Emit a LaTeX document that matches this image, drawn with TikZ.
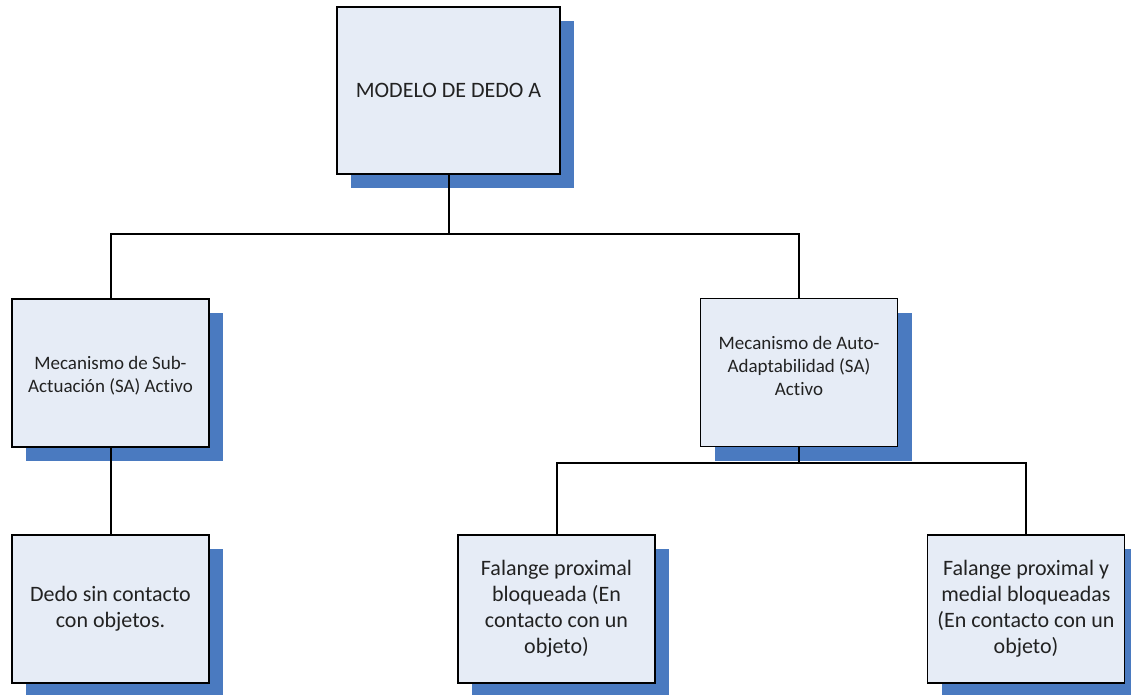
\documentclass[tikz,border=0pt]{standalone}
\usepackage{fontspec}
\setmainfont{Carlito}[Ligatures=NoCommon]
\usetikzlibrary{shadows}
\definecolor{boxfill}{HTML}{E6ECF6}
\definecolor{shadowblue}{HTML}{4A7AC0}
\definecolor{textgray}{HTML}{222222}
\begin{document}
\begin{tikzpicture}[x=1pt,y=-1pt,
  box/.style={draw=black, line width=1.9pt, fill=boxfill, align=center,
    text=textgray, inner sep=4pt,
    drop shadow={shadow xshift=14pt, shadow yshift=-14pt, fill=shadowblue, opacity=1}},
  topbox/.style={box, minimum width=223pt, minimum height=167pt,
    font=\fontsize{22}{26}\selectfont},
  midbox/.style={box, minimum width=197pt, minimum height=148pt,
    font=\fontsize{19}{23}\selectfont},
  leafbox/.style={box, minimum width=197pt, minimum height=148pt,
    font=\fontsize{22}{26}\selectfont},
  link/.style={draw=black, line width=2pt}]
\useasboundingbox (0,0) rectangle (1131,694);
\clip (0,0) rectangle (1131,694);

% boxes
\node[topbox]  (top) at (448.5,90.5) {MODELO DE DEDO A};
\node[midbox]  (ml)  at (110.5,373) {};
\node[midbox]  (mr)  at (799,372.5) {};
\node[leafbox] (bl)  at (110.5,609) {Dedo sin contacto\\con objetos.};
\node[leafbox] (bm)  at (556.5,609) {Falange proximal\\bloqueada (En\\contacto con un\\objeto)};
\node[leafbox] (br)  at (1026,609) {Falange proximal y\\medial bloqueadas\\(En contacto con un\\objeto)};

% labels of the two mechanism boxes
\node[align=center, text=textgray, font=\fontsize{19}{23}\selectfont] (mlt)
  at ([yshift=-3pt]ml.center) {Mecanismo de Sub-\\Actuación (SA) Activo};
\node[align=center, text=textgray, font=\fontsize{19}{23}\selectfont] (mrt)
  at ([yshift=7pt]mr.center) {Mecanismo de Auto-\\Adaptabilidad (SA)\\Activo};

% junctions
\coordinate (j1) at (448.5,234);
\coordinate (j2) at (799,463);

% connectors
\draw[link] (top.south) -- (j1);
\draw[link] (ml.north) |- (j1) -| (mr.north);
\draw[link] (ml.south) -- (bl.north);
\draw[link] (mr.south) -- (j2);
\draw[link] (bm.north) |- (j2) -| (br.north);
\end{tikzpicture}
\end{document}
